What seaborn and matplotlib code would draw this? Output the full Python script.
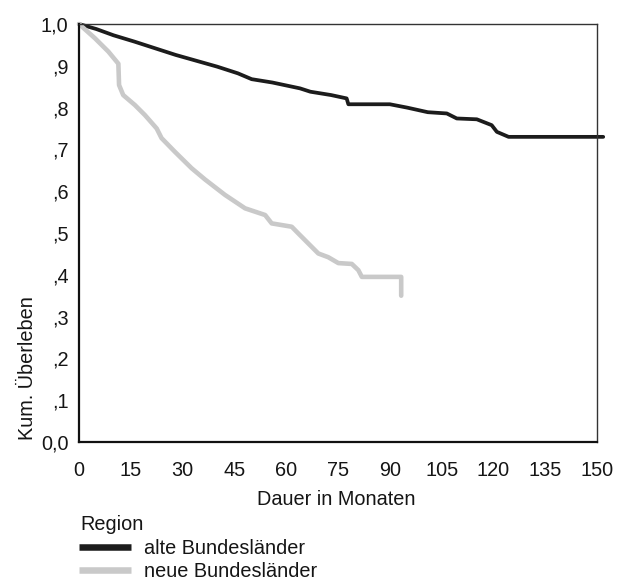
import matplotlib
matplotlib.use("Agg")
import matplotlib.pyplot as plt
import seaborn as sns
import pandas as pd

# Kaplan-Meier survival curves (months, cumulative survival), traced as vertices
region_names = ["alte Bundesländer", "neue Bundesländer"]

alte_months = [0, 5, 10, 16, 22, 28, 34, 40, 46, 50, 56, 64, 67, 73, 77.5, 78,
               90, 95, 101, 106.5, 109.4, 115.2, 119.5, 121, 124.4, 151.8]
alte_surv = [1.000, 0.988, 0.973, 0.958, 0.942, 0.926, 0.912, 0.898, 0.882, 0.868,
             0.860, 0.846, 0.838, 0.830, 0.822, 0.808, 0.808, 0.800, 0.789, 0.786,
             0.774, 0.772, 0.758, 0.742, 0.730, 0.730]

neue_months = [0, 4.6, 8.5, 10.9, 11.4, 11.6, 12.8, 16.2, 19.1, 22.5, 23.9, 27.8,
               32.6, 36.5, 42.3, 48.1, 53.9, 55.8, 61.6, 63.5, 66.4, 69.3, 72.2,
               75.1, 79, 80.9, 81.9, 93.3, 93.3]
neue_surv = [1.000, 0.966, 0.934, 0.910, 0.905, 0.854, 0.830, 0.806, 0.782, 0.750,
             0.727, 0.694, 0.655, 0.628, 0.591, 0.559, 0.543, 0.523, 0.515, 0.499,
             0.475, 0.451, 0.442, 0.428, 0.426, 0.411, 0.395, 0.395, 0.350]

x_ticks = [0, 15, 30, 45, 60, 75, 90, 105, 120, 135, 150]
y_ticks = [0.0, 0.1, 0.2, 0.3, 0.4, 0.5, 0.6, 0.7, 0.8, 0.9, 1.0]
y_tick_labels = ["0,0", ",1", ",2", ",3", ",4", ",5", ",6", ",7", ",8", ",9", "1,0"]

sns.set_style("white")
plt.rcParams["font.family"] = ["Liberation Sans", "DejaVu Sans"]
FS = 14.3
plt.rcParams["font.size"] = FS

df = pd.concat([
    pd.DataFrame({"Monate": alte_months, "Ueberleben": alte_surv, "Region": region_names[0]}),
    pd.DataFrame({"Monate": neue_months, "Ueberleben": neue_surv, "Region": region_names[1]}),
])

colors = {region_names[0]: "#1c1c1c", region_names[1]: "#c9c9c9"}
widths = {region_names[0]: 2.7, region_names[1]: 3.3}
text_color = "#151515"

fig = plt.figure(figsize=(6.19, 5.82), dpi=100)
ax = fig.add_axes([79 / 619, 1 - 442 / 582, (597 - 79) / 619, (442 - 24) / 582])

for name in region_names:
    sub = df[df["Region"] == name]
    sns.lineplot(data=sub, x="Monate", y="Ueberleben", ax=ax, color=colors[name],
                 lw=widths[name], estimator=None, sort=False, label=name,
                 legend=False, clip_on=False)

ax.set_xlim(0, 150)
ax.set_ylim(0, 1.0)
ax.set_xticks(x_ticks)
ax.set_xticklabels([str(t) for t in x_ticks])
ax.set_yticks(y_ticks)
ax.set_yticklabels(y_tick_labels)

for side in ["left", "bottom"]:
    ax.spines[side].set_linewidth(1.6)
    ax.spines[side].set_color("#111111")
for side in ["top", "right"]:
    ax.spines[side].set_linewidth(1.0)
    ax.spines[side].set_color("#333333")

ax.tick_params(axis="both", direction="out", length=2.5, width=2.2,
               color="#333333", labelsize=FS, labelcolor=text_color)
ax.tick_params(axis="x", pad=11.5)
ax.tick_params(axis="y", pad=5)

ax.set_xlabel("Dauer in Monaten", fontsize=FS, color=text_color)
ax.set_ylabel("Kum. Überleben", fontsize=FS, color=text_color)
ax.xaxis.set_label_coords(0.497, -0.116)
ax.yaxis.set_label_coords(-0.081, 0.177)

if ax.get_legend() is not None:
    ax.get_legend().remove()

fig.text(80 / 619, 1 - 530 / 582, "Region", fontsize=FS, color=text_color,
         ha="left", va="baseline")

handles = ax.get_lines()[:2]
leg = fig.legend(handles, region_names, loc="upper left",
                 bbox_to_anchor=(79 / 619, 1 - 539 / 582), frameon=False,
                 fontsize=FS, handlelength=2.64, handletextpad=0.62,
                 labelspacing=0.22, borderpad=0, borderaxespad=0)
for txt in leg.get_texts():
    txt.set_color(text_color)
for line in leg.get_lines():
    line.set_linewidth(4.7)
    line.set_solid_capstyle("butt")

fig.savefig("out.png", dpi=100)
